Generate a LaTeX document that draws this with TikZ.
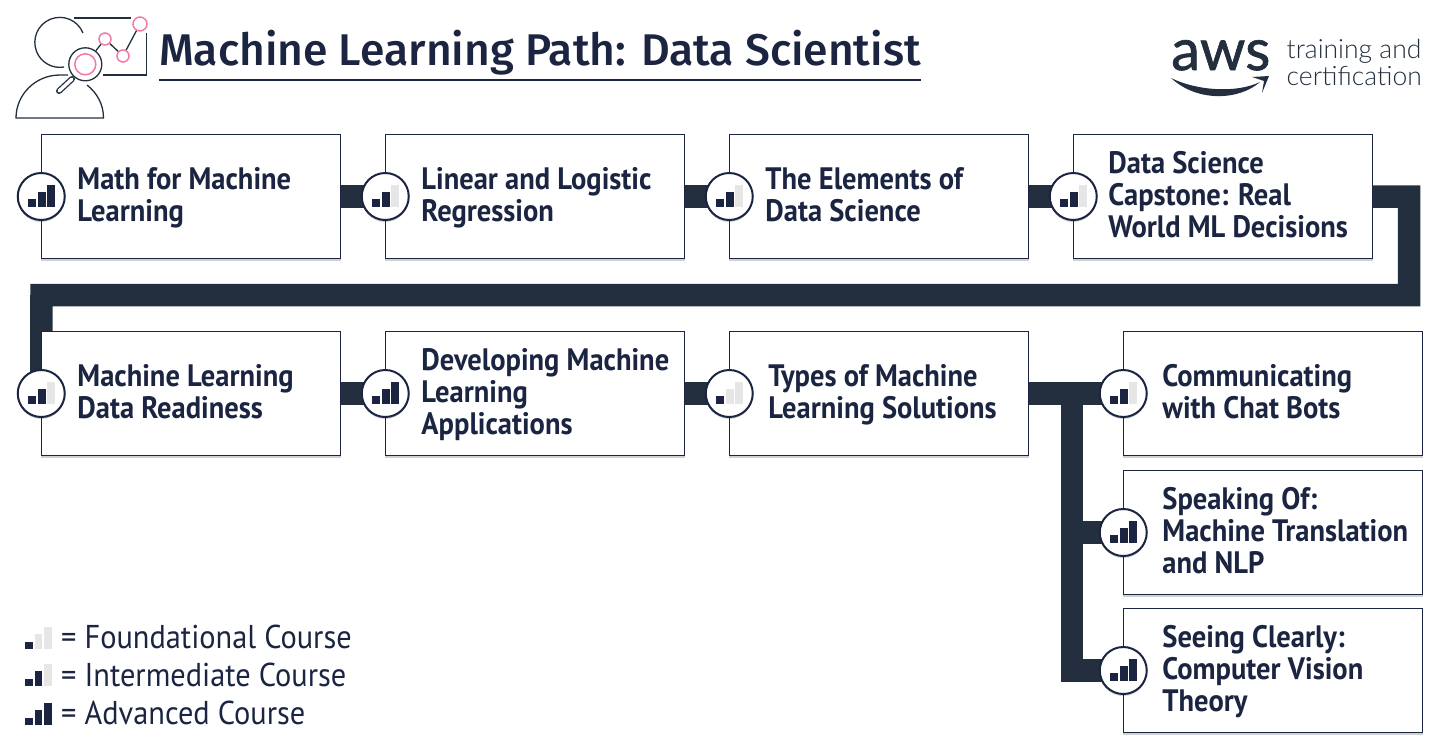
\documentclass[tikz,border=0pt]{standalone}
\usepackage{fontspec}
\setmainfont{PT Sans}
\newfontfamily\stepfont[FakeStretch=0.92]{PT Sans}
\newfontfamily\legendfont[FakeStretch=0.92]{PT Sans}
\newfontfamily\titlefont{Fira Sans Medium}
\newfontfamily\logofont[FakeBold=1.2]{Lato}
\newfontfamily\tagfont{Lato Light}
\usetikzlibrary{positioning,shadows,backgrounds}
\definecolor{navy}{HTML}{1B2542}
\definecolor{squid}{HTML}{232F3E}
\definecolor{idlebar}{HTML}{E6E6E6}
\definecolor{rose}{HTML}{F27BA5}

\tikzset{
  softshadow/.style={drop shadow={shadow xshift=0pt,shadow yshift=-2pt,fill=black,opacity=.18}},
  stepbox/.style={draw=navy,line width=1pt,fill=white,minimum width=299.5pt,minimum height=124pt,
    inner sep=0pt,outer sep=0pt,softshadow},
  steptext/.style={anchor=west,align=left,text=navy,font=\stepfont\bfseries\fontsize{31}{32}\selectfont,
    inner sep=0pt},
  stepbadge/.style={circle,draw=navy,line width=2pt,fill=white,minimum size=47pt,inner sep=0pt,softshadow},
  pathbar/.style={draw=squid,line width=22.5pt},
  iconline/.style={draw=squid,line width=1.3pt},
  chartdot/.style={circle,draw=rose,line width=1.5pt,fill=white,inner sep=0pt},
  legendtext/.style={anchor=base west,text=navy,font=\legendfont\fontsize{33}{34}\selectfont,inner sep=0pt},
}

\begin{document}
\begin{tikzpicture}[x=1pt,y=-1pt,line cap=butt]
  \useasboundingbox (0,0) rectangle (1450,750);

  % the steps: name/x/y/level/text
  \foreach \name/\x/\y/\lvl/\xoff/\txt in {
      math/191/196.5/3/36/{Math for Machine\\Learning},
      linear/535/196.5/2/36/{Linear and Logistic\\Regression},
      elements/879/196.5/2/36/{The Elements of\\Data Science},
      capstone/1223/196.5/2/35/{Data Science\\Capstone: Real\\World ML Decisions},
      readiness/191/393.5/2/36/{Machine Learning\\Data Readiness},
      developing/535/393.5/3/36/{Developing Machine\\Learning\\Applications},
      types/879/393.5/1/39/{Types of Machine\\Learning Solutions},
      chatbots/1273/393.5/2/39/{Communicating\\with Chat Bots},
      translation/1273/532.5/3/39/{Speaking Of:\\Machine Translation\\and NLP},
      vision/1273/670.5/3/39/{Seeing Clearly:\\Computer Vision\\Theory}}
  {
    \node[stepbox] (\name box) at (\x,\y) {};
    \node[steptext] (\name text) at ([xshift=\xoff pt,yshift=-3pt]\name box.west) {\strut\txt\strut};
    \node[stepbadge] (\name badge) at (\name box.west) {};
    \path (\name badge.center) coordinate (here);
    \foreach \i/\top in {0/8,1/14.6,2/22}{
      \ifnum\i<\lvl \def\barcol{navy}\else\def\barcol{idlebar}\fi
      \fill[\barcol] ([xshift={-13pt+\i*9.5pt},yshift=-10.3pt]here) rectangle ++(7.8,-\top);
    }
  }

  % the thick path behind the steps
  \coordinate (turnright) at (1409,295);
  \coordinate (turnleft) at (41.5,295);
  \coordinate (branchtop) at (1072,394);
  \begin{pgfonlayer}{background}
    \draw[pathbar] (mathbox.east) -- (linearbox.west);
    \draw[pathbar] (linearbox.east) -- (elementsbox.west);
    \draw[pathbar] (elementsbox.east) -- (capstonebox.west);
    \draw[pathbar] (capstonebox.east) -| (turnright) -- (turnleft) -- (readinessbadge.center);
    \draw[pathbar] (readinessbox.east) -- (developingbox.west);
    \draw[pathbar] (developingbox.east) -- (typesbox.west);
    \draw[pathbar] (typesbox.east) -- (chatbotsbadge.center);
    \draw[pathbar] (branchtop) |- (visionbadge.center);
    \draw[pathbar] (branchtop |- translationbadge.center) -- (translationbadge.center);
  \end{pgfonlayer}

  % header
  \node[anchor=base west,inner sep=0pt,text=navy,font=\titlefont\fontsize{44.4}{44.4}\selectfont] (title) at (159,65)
    {Machine Learning Path: Data Scientist};
  \draw[navy,line width=1.6pt] (159,80) -- (921,80);

  % icon
  \draw[iconline] (83,33) arc (-22:-280:25);
  \draw[iconline] (68,75) -- (60,75) .. controls (35,75) and (16,95) .. (16,118) -- (103.5,118)
    .. controls (103.5,104) and (97,93) .. (87,85);
  \draw[iconline] (74,18) -- (131,18);
  \draw[iconline] (146.5,33) -- (146.5,75) -- (103,75);
  \node[circle,draw=squid,line width=1.3pt,minimum size=33pt,inner sep=0pt] (lens) at (85.3,64.3) {};
  \node[circle,draw=rose,line width=1.5pt,minimum size=21pt,inner sep=0pt] (lensring) at (85.3,64.3) {};
  \node[chartdot,minimum size=12pt] (dota) at (105,39) {};
  \node[chartdot,minimum size=12pt] (dotb) at (123,56) {};
  \node[chartdot,minimum size=14pt] (dotc) at (140,24) {};
  \draw[iconline] (lens) -- (dota);
  \draw[iconline] (dota) -- (dotb);
  \draw[iconline] (dotb) -- (dotc);
  \draw[squid,line width=6pt,line cap=round] (72,79) -- (59,91);
  \draw[white,line width=3.4pt,line cap=round] (72,79) -- (59,91);

  % logo
  \node[anchor=base west,inner sep=0pt,text=squid,font=\logofont\fontsize{58}{58}\selectfont] (aws) at (1171,70) {aws};
  \fill[squid] (1171,78) .. controls (1195,90) and (1235,94) .. (1260,82)
     .. controls (1240,100) and (1198,103) .. (1171,78);
  \fill[squid] (1252,77) -- (1269,76) -- (1262,93) -- (1264,81) -- cycle;
  \node[anchor=base west,inner sep=0pt,text=squid,align=left,font=\tagfont\fontsize{26.5}{27}\selectfont] (tagline) at (1286.5,85)
    {training and\\certification};

  % legend
  \foreach \name/\base/\lvl/\txt in {
      foundational/648.5/1/Foundational Course,
      intermediate/686/2/Intermediate Course,
      advanced/724.5/3/Advanced Course}
  {
    \node[legendtext] (\name) at (61,\base) {= \txt};
    \coordinate (here) at (25,\base);
    \foreach \i/\top in {0/6.7,1/15,2/22}{
      \ifnum\i<\lvl \def\barcol{navy}\else\def\barcol{idlebar}\fi
      \fill[\barcol] ([xshift={\i*9.5pt}]here) rectangle ++(7.7,-\top);
    }
  }
\end{tikzpicture}
\end{document}
